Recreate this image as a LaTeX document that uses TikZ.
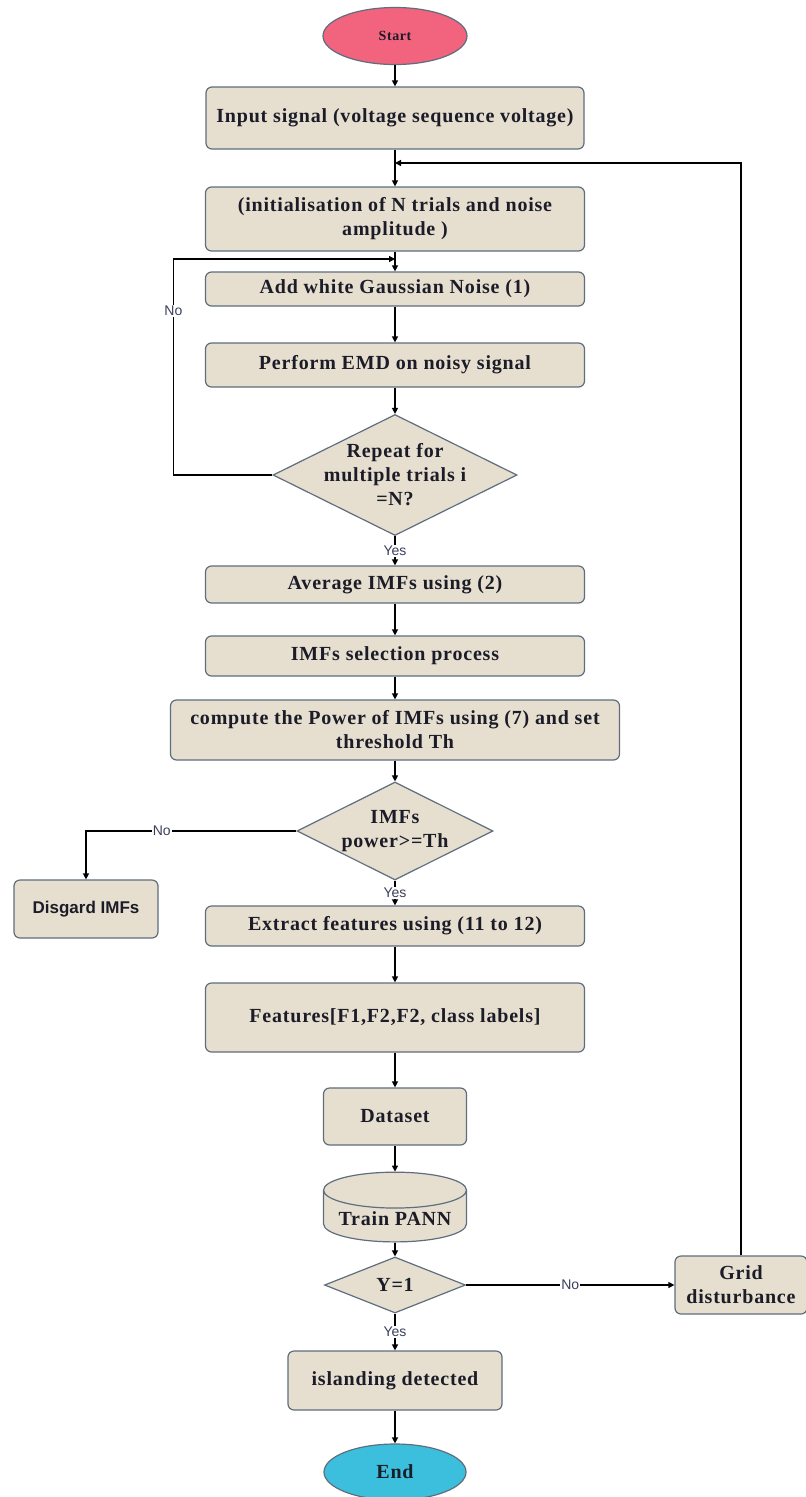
\documentclass[tikz,border=0pt]{standalone}
\usepackage{fontspec}
\setmainfont{Liberation Serif}[LetterSpace=4]
\newfontfamily\arialfont{Liberation Sans}
\usepackage{tikz}
\usetikzlibrary{positioning,arrows.meta,shapes.geometric}
\usepackage{xcolor}
\definecolor{boxfill}{HTML}{E6DFD0}
\definecolor{boxline}{HTML}{5E6E7E}
\definecolor{startfill}{HTML}{F2637E}
\definecolor{endfill}{HTML}{3CBFDC}
\definecolor{lbl}{HTML}{3A3F5C}
\definecolor{ink}{HTML}{1C1C28}

\tikzset{
  proc/.style={draw=boxline,fill=boxfill,line width=1.2pt,rounded corners=6pt,
    align=center,text=ink,font=\bfseries\fontsize{20}{24}\selectfont,inner sep=2pt},
  decide/.style={diamond,aspect=2,draw=boxline,fill=boxfill,line width=1.2pt,align=center,
    text=ink,font=\bfseries\fontsize{20}{24}\selectfont,inner sep=-8pt},
  term/.style={ellipse,draw=boxline,line width=1.2pt,text=ink,font=\bfseries},
  flow/.style={-{Triangle[length=6pt,width=6pt]},line width=1.3pt,black},
  ans/.style={font=\arialfont\fontsize{14}{16}\selectfont,text=lbl,fill=white,inner sep=1pt}
}

\begin{document}
\begin{tikzpicture}[x=1pt,y=-1pt]
  \fill[white] (0,0) rectangle (806,1497);
  \useasboundingbox (0,0) rectangle (806,1497);

  % main column
  \node[term,fill=startfill,minimum width=144pt,minimum height=57pt,font=\bfseries\fontsize{14}{16}\selectfont] (start) at (395,36) {Start};
  \node[proc,minimum width=378pt,minimum height=62pt] (inp) at (395,118) {Input signal (voltage sequence voltage)};
  \node[proc,minimum width=379pt,minimum height=64pt] (init) at (395,219) {(initialisation of N trials and noise\\amplitude )};
  \node[proc,minimum width=379pt,minimum height=34pt] (add) at (395,289) {Add white Gaussian Noise (1)};
  \node[proc,minimum width=379pt,minimum height=44pt] (emd) at (395,365) {Perform EMD on noisy signal};
  \node[decide,minimum width=244pt,minimum height=121pt] (rep) at (395,475) {Repeat for\\multiple trials i\\=N?};
  \node[proc,minimum width=379pt,minimum height=37pt] (avg) at (395,584.5) {Average IMFs using (2)};
  \node[proc,minimum width=379pt,minimum height=40pt] (sel) at (395,656) {IMFs selection process};
  \node[proc,minimum width=449pt,minimum height=60pt] (pow) at (395,730) {compute the Power of IMFs using (7) and set\\threshold Th};
  \node[decide,minimum width=196pt,minimum height=98pt] (imf) at (395,831) {IMFs\\power>=Th};
  \node[proc,minimum width=144pt,minimum height=58pt,font=\arialfont\bfseries\fontsize{17}{20}\selectfont] (disg) at (86,909) {Disgard IMFs};
  \node[proc,minimum width=379pt,minimum height=40pt] (ext) at (395,926) {Extract features using (11 to 12)};
  \node[proc,minimum width=379pt,minimum height=69pt] (feat) at (395,1017.5) {Features[F1,F2,F2, class labels]};
  \node[proc,minimum width=143pt,minimum height=57pt] (data) at (395,1116.5) {Dataset};
  \node[cylinder,shape border rotate=90,aspect=0.3,draw=boxline,fill=boxfill,line width=1.2pt,
    text=ink,font=\bfseries\fontsize{20}{24}\selectfont,minimum width=143pt,minimum height=63pt] (train) at (395,1219) {Train PANN};
  \node[decide,minimum width=141pt,minimum height=56pt] (yone) at (395,1285) {Y=1};
  \node[proc,minimum width=132pt,minimum height=58pt] (grid) at (741,1285) {Grid\\disturbance};
  \node[proc,minimum width=214pt,minimum height=59pt] (isl) at (395,1380.5) {islanding detected};
  \node[term,fill=endfill,minimum width=142pt,minimum height=56pt,font=\bfseries\fontsize{20}{22}\selectfont] (end) at (395,1472) {End};

  \coordinate (fbin) at (395,163);
  \coordinate (loopin) at (395,259);

  % straight arrows
  \foreach \a/\b in {start/inp,inp/init,init/add,add/emd,emd/rep,avg/sel,sel/pow,pow/imf,
                     ext/feat,feat/data,data/train,train/yone,isl/end}
    \draw[flow] (\a) -- (\b);

  % decisions
  \draw[flow] (rep) -- node[ans]{Yes} (avg);
  \draw[flow] (rep.west) -- ++(-99,0) |- node[ans,pos=0.38]{No} (loopin);
  \draw[flow] (imf) -- node[ans]{Yes} (ext);
  \draw[flow] (imf.west) -| node[ans,pos=0.32]{No} (disg.north);
  \draw[flow] (yone) -- node[ans]{Yes} (isl);
  \draw[flow] (yone) -- node[ans]{No} (grid);
  \draw[flow] (grid.north) |- (fbin);
\end{tikzpicture}
\end{document}
